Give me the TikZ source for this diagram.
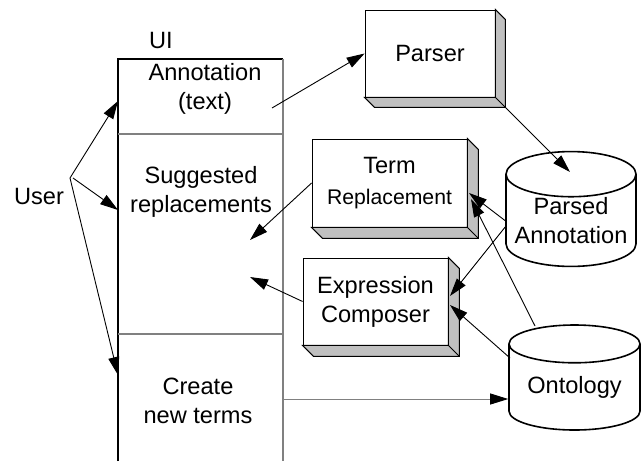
\documentclass[tikz,border=0pt]{standalone}
\usepackage{fontspec}
\setmainfont{Liberation Sans}
\usetikzlibrary{shapes.geometric,arrows.meta,calc}

\definecolor{bevelgray}{RGB}{192,192,192}
\definecolor{framegray}{RGB}{128,128,128}
\newcommand{\labelfont}{\fontsize{11.8}{14.5}\selectfont}

\tikzstyle{lbl} = [
	inner sep=0pt,
	align=center,
	font=\labelfont
]
\tikzstyle{block} = [
	draw,
	fill=white,
	inner sep=0pt,
	align=center,
	font=\labelfont
]
\tikzstyle{store} = [
	draw,
	cylinder,
	shape border rotate=90,
	aspect=0.4,
	anchor=shape center,
	line width=0.8pt,
	inner sep=0pt,
	align=center,
	font=\labelfont
]
\tikzstyle{conn} = [-{Triangle[length=9pt,width=5.5pt,color=black]}, line width=0.45pt]

% grey right and bottom faces of a raised box
\newcommand{\bevel}[2]{%
	\filldraw[fill=bevelgray, line width=0.5pt] (#1.north east) -- ++(#2,#2)
		-- ([shift={(#2,#2)}]#1.south east) -- ([shift={(#2,#2)}]#1.south west)
		-- (#1.south west) -- (#1.south east) -- cycle;
	\draw[line width=0.5pt] (#1.south east) -- ++(#2,#2);
}

\begin{document}
\begin{tikzpicture}[x=0.5pt, y=-0.5pt]
	\useasboundingbox (0,0) rectangle (641,461);

	% UI column
	\coordinate (colTL) at (118,59);
	\coordinate (colTR) at (283,59);
	\coordinate (colBL) at (118,461);
	\coordinate (colBR) at (283,461);
	\draw[line width=0.6pt] (colBL) -- (colTL) -- (colTR);
	\draw[framegray, line width=0.6pt] (colTR) -- (colBR);
	\draw[framegray, line width=0.6pt] (118,134) -- (283,134);
	\draw[framegray, line width=0.6pt] (118,334) -- (283,334);

	\node[lbl] (ui) at (161,40) {UI};
	\node[lbl] (user) at (39,196) {User};
	\node[lbl] (annot) at (205,89) {Annotation\\(text)};
	\node[lbl] (suggest) at (201,192) {Suggested\\replacements};
	\node[lbl] (create) at (198,401) {Create\\new terms};

	% processing boxes and stores
	\node[block, minimum width=65pt, minimum height=43.5pt] (parser) at (430,53.5) {Parser};
	\node[block, minimum width=77.5pt, minimum height=44pt] (termrep) at (389.5,183)
		{Term\\[1pt]{\fontsize{10.6}{13}\selectfont Replacement}};
	\node[block, minimum width=72.5pt, minimum height=43.5pt] (expcomp) at (375.5,301.5) {Expression\\Composer};
	\node[store, minimum width=65pt, minimum height=54pt] (parsed) at (571,209) {Parsed\\Annotation};
	\node[store, minimum width=65.5pt, minimum height=52.5pt] (onto) at (574.5,377.5) {Ontology};

	\bevel{parser}{10}
	\bevel{termrep}{11}
	\bevel{expcomp}{11}

	% free arrow ends
	\coordinate (userhub) at (70,178);
	\coordinate (annotin) at (118,101);
	\coordinate (suggestin) at (118,210);
	\coordinate (createin) at (118,375);
	\coordinate (annotout) at (272,108);
	\coordinate (parserback) at (505,107);
	\coordinate (parsedtop) at (570,172);
	\coordinate (termin) at (469,193);
	\coordinate (termin2) at (471,199);
	\coordinate (ontotop) at (535,326);
	\coordinate (parsedlow) at (506,226);
	\coordinate (ontoleft) at (510,358);
	\coordinate (expin) at (450,296);
	\coordinate (expin2) at (450,305);
	\coordinate (suggestA) at (250,240);
	\coordinate (suggestB) at (250,277);
	\coordinate (createout) at (283,399);

	\draw[conn] (userhub) -- (annotin);
	\draw[conn] ($(userhub)+(3,0)$) -- (suggestin);
	\draw[conn] (userhub) -- (createin);
	\draw[conn] (annotout) -- (parser.west);
	\draw[conn] (parserback) -- (parsedtop);
	\draw[conn] (parsed.west) -- (termin);
	\draw[conn] (ontotop) -- (termin2);
	\draw[conn] (termrep.west) -- (suggestA);
	\draw[conn] (expcomp.west) -- (suggestB);
	\draw[conn] (parsedlow) -- (expin);
	\draw[conn] (ontoleft) -- (expin2);
	\draw[conn, framegray] (createout) -- (createout -| onto.west);
\end{tikzpicture}
\end{document}
